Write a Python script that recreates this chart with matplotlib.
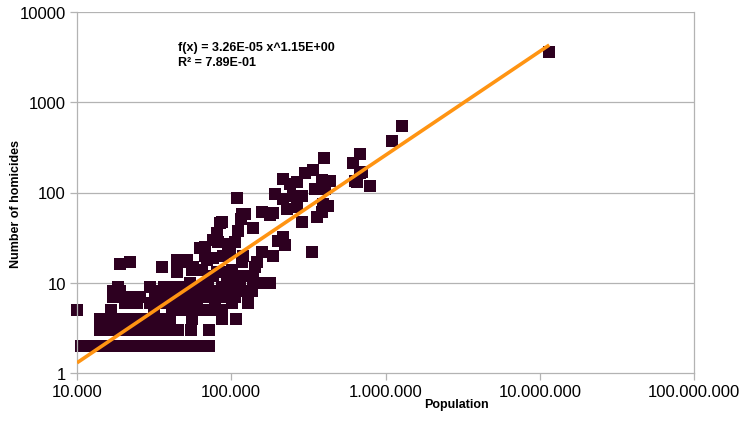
import matplotlib
matplotlib.use('Agg')
import matplotlib.pyplot as plt
from matplotlib.ticker import FixedLocator, FuncFormatter, NullLocator
import numpy as np

plt.rcParams['font.family'] = ['Liberation Sans', 'DejaVu Sans']

# city population vs. number of homicides
population = [
    # 2 homicides
    10600, 11800, 13100, 14300, 15900, 17400, 19000, 21100, 23000, 25600,
    28000, 30600, 33400, 36600, 40000, 47100, 55500, 65400, 71500,
    # 3
    14100, 15400, 16800, 18400, 20100, 22000, 24100, 26300, 28800, 31500,
    34400, 37700, 41200, 45000, 54700, 71500,
    # 4
    14100, 15600, 17400, 19300, 21400, 23700, 26300, 29200, 32500, 36000,
    40000, 55500, 86800, 107000,
    # 5
    10000, 16600, 31500, 41200, 47800, 55500, 61600, 73700, 86800,
    # 6
    20450, 24450, 29700, 38200, 44400, 53900, 78200, 127900,
    31500, 36600, 47100, 60000, 100700,
    # 7
    17100, 22000, 25600, 34400, 50000, 84200, 105400,
    40000, 57000, 66000, 93500,
    # 8
    17100, 19000, 32000, 43100, 62500, 70400, 75900, 113500, 135800,
    # 9
    18400, 29700, 40000, 46400, 53900, 100700, 36600, 62500, 86800,
    # 10 - 20
    53900, 146200, 152900, 177500, 70400, 113500,
    110200, 137800,
    93500, 113500, 75900, 128000,
    44400, 80500, 90800,
    55500, 100700, 65000,
    35500, 56300, 142000,
    19000,
    22000, 51500, 117000, 146200,
    44400, 51500, 69400,
    75900,
    67400, 88100, 118700, 185600,
    # 22 - 60
    97800, 157600, 331900,
    62500, 67400, 75900,
    222000, 94900, 81800, 105400, 200000, 215400,
    80500, 80500, 110200, 137800,
    84200, 86800, 286000, 115200, 357700, 177500,
    117000, 122300, 185600,
    # 61 - 180
    157600, 385300, 228700, 265400, 421400, 391000,
    215400, 108500, 250100, 286000, 191200,
    347200, 402900, 787700, 239100, 265400, 649200,
    434100, 630100, 385300, 215400,
    299100, 678900, 699500, 337000,
    # large cities
    611500, 396900, 678900, 1110000, 1270000, 11520000,
]

homicides = [
    2, 2, 2, 2, 2, 2, 2, 2, 2, 2,
    2, 2, 2, 2, 2, 2, 2, 2, 2,
    3, 3, 3, 3, 3, 3, 3, 3, 3, 3,
    3, 3, 3, 3, 3, 3,
    4, 4, 4, 4, 4, 4, 4, 4, 4, 4,
    4, 4, 4, 4,
    5, 5, 5, 5, 5, 5, 5, 5, 5,
    6, 6, 6, 6, 6, 6, 6, 6,
    6, 6, 6, 6, 6,
    7, 7, 7, 7, 7, 7, 7,
    7, 7, 7, 7,
    8, 8, 8, 8, 8, 8, 8, 8, 8,
    9, 9, 9, 9, 9, 9, 9, 9, 9,
    10, 10, 10, 10, 10, 10,
    11, 11,
    12, 12, 12, 12,
    13, 13, 13,
    14, 14, 14,
    15, 15, 15,
    16,
    17, 17, 17, 17,
    18, 18, 18,
    19,
    20, 20, 20, 20,
    22, 22, 22,
    24, 25, 30,
    26, 27, 28, 28, 29, 32,
    35, 36, 37, 40,
    46, 47, 47, 51, 54, 56,
    58, 58, 60,
    61, 61, 66, 69, 71, 75,
    85, 87, 92, 92, 97,
    110, 110, 118, 124, 130, 130,
    134, 134, 137, 142,
    165, 165, 169, 178,
    213, 242, 270, 370, 540, 3600,
]

# power-law trend line shown on the chart
fit_a = 3.26e-05
fit_b = 1.15
fit_label = 'f(x) = 3.26E-05 x^1.15E+00'
r2_label = 'R² = 7.89E-01'

x_ticks = [1e4, 1e5, 1e6, 1e7, 1e8]
y_ticks = [1, 10, 100, 1000, 10000]

fig = plt.figure(figsize=(7.55, 4.27), dpi=100)
ax = fig.add_axes([77 / 755, 1 - 374 / 427, (694 - 77) / 755, (374 - 13) / 427])

grid_c = '#b3b3b3'
ax.set_xscale('log')
ax.set_yscale('log')
ax.set_xlim(1e4, 1e8)
ax.set_ylim(1, 1e4)

for y in y_ticks[1:]:
    ax.axhline(y, color=grid_c, linewidth=0.9, zorder=0)

ax.plot(population, homicides, linestyle='none', marker='s', markersize=8,
        color='#2d0020', markeredgewidth=0, zorder=2, clip_on=False)

xs = np.array([min(population), max(population)])
ax.plot(xs, fit_a * xs ** fit_b, color='#ff9412', linewidth=2.6,
        solid_capstyle='butt', zorder=3)

ax.xaxis.set_major_locator(FixedLocator(x_ticks))
ax.yaxis.set_major_locator(FixedLocator(y_ticks))
ax.xaxis.set_minor_locator(NullLocator())
ax.yaxis.set_minor_locator(NullLocator())
ax.xaxis.set_major_formatter(FuncFormatter(lambda v, p: f'{int(round(v)):,}'.replace(',', '.')))
ax.yaxis.set_major_formatter(FuncFormatter(lambda v, p: f'{int(round(v))}'))
ax.tick_params(axis='both', which='major', labelsize=12, color=grid_c,
               length=5, width=0.9, pad=3)

for s in ax.spines.values():
    s.set_color(grid_c)
    s.set_linewidth(0.9)
ax.spines['top'].set_visible(False)

fig.text(456 / 755, 1 - 405 / 427, 'Population', fontsize=9, fontweight='bold',
         ha='center', va='center')
fig.text(16 / 755, 1 - 204 / 427, 'Number of homicides', fontsize=9,
         fontweight='bold', rotation=90, ha='center', va='center')
fig.text(178 / 755, 1 - 48 / 427, fit_label, fontsize=9, fontweight='bold',
         ha='left', va='center')
fig.text(178 / 755, 1 - 63.5 / 427, r2_label, fontsize=9, fontweight='bold',
         ha='left', va='center')

fig.savefig('out.png', dpi=100)
